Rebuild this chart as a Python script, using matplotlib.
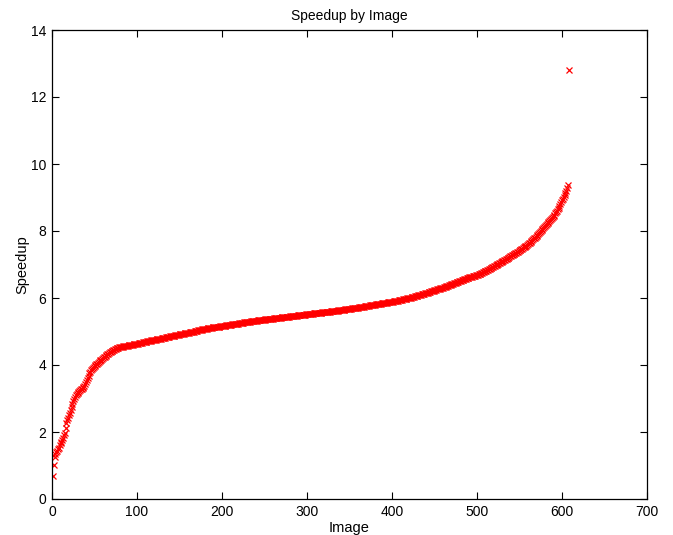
import matplotlib
matplotlib.use("Agg")
import matplotlib.pyplot as plt

speedup = [
    0.68, 1.02, 1.26, 1.33, 1.39, 1.44, 1.49, 1.53, 1.60, 1.66,
    1.70, 1.76, 1.83, 1.90, 1.98, 2.12, 2.28, 2.36, 2.43, 2.50,
    2.58, 2.66, 2.76, 2.85, 2.92, 2.99, 3.05, 3.09, 3.13, 3.16,
    3.19, 3.22, 3.25, 3.27, 3.29, 3.31, 3.33, 3.38, 3.44, 3.50,
    3.54, 3.60, 3.68, 3.75, 3.80, 3.84, 3.88, 3.91, 3.94, 3.97,
    4.00, 4.02, 4.04, 4.07, 4.09, 4.12, 4.14, 4.16, 4.18, 4.20,
    4.23, 4.25, 4.27, 4.30, 4.32, 4.34, 4.36, 4.38, 4.40, 4.42,
    4.43, 4.45, 4.46, 4.48, 4.49, 4.50, 4.51, 4.52, 4.53, 4.53,
    4.54, 4.55, 4.55, 4.56, 4.56, 4.57, 4.57, 4.58, 4.58, 4.59,
    4.59, 4.60, 4.60, 4.61, 4.61, 4.62, 4.62, 4.63, 4.63, 4.64,
    4.64, 4.65, 4.65, 4.66, 4.67, 4.67, 4.68, 4.68, 4.69, 4.69,
    4.70, 4.71, 4.71, 4.72, 4.73, 4.73, 4.74, 4.74, 4.75, 4.75,
    4.76, 4.76, 4.77, 4.77, 4.78, 4.78, 4.78, 4.79, 4.80, 4.80,
    4.81, 4.81, 4.82, 4.83, 4.83, 4.84, 4.84, 4.85, 4.86, 4.86,
    4.87, 4.87, 4.88, 4.88, 4.89, 4.90, 4.90, 4.91, 4.91, 4.92,
    4.92, 4.93, 4.93, 4.94, 4.94, 4.95, 4.95, 4.96, 4.96, 4.97,
    4.97, 4.98, 4.98, 4.99, 4.99, 5.00, 5.00, 5.01, 5.01, 5.02,
    5.02, 5.03, 5.04, 5.04, 5.05, 5.05, 5.06, 5.06, 5.07, 5.07,
    5.08, 5.08, 5.09, 5.09, 5.10, 5.10, 5.11, 5.11, 5.12, 5.12,
    5.12, 5.13, 5.13, 5.13, 5.14, 5.14, 5.14, 5.15, 5.15, 5.15,
    5.16, 5.16, 5.17, 5.17, 5.18, 5.18, 5.19, 5.19, 5.20, 5.20,
    5.20, 5.21, 5.21, 5.22, 5.22, 5.22, 5.23, 5.23, 5.23, 5.24,
    5.24, 5.25, 5.25, 5.26, 5.26, 5.27, 5.27, 5.27, 5.28, 5.28,
    5.28, 5.29, 5.29, 5.30, 5.30, 5.30, 5.31, 5.31, 5.32, 5.32,
    5.32, 5.33, 5.33, 5.33, 5.34, 5.34, 5.34, 5.35, 5.35, 5.35,
    5.36, 5.36, 5.36, 5.37, 5.37, 5.37, 5.38, 5.38, 5.38, 5.38,
    5.39, 5.39, 5.39, 5.40, 5.40, 5.40, 5.41, 5.41, 5.41, 5.42,
    5.42, 5.42, 5.43, 5.43, 5.43, 5.43, 5.44, 5.44, 5.44, 5.45,
    5.45, 5.45, 5.46, 5.46, 5.46, 5.47, 5.47, 5.47, 5.48, 5.48,
    5.48, 5.48, 5.49, 5.49, 5.49, 5.50, 5.50, 5.50, 5.51, 5.51,
    5.51, 5.52, 5.52, 5.52, 5.53, 5.53, 5.53, 5.54, 5.54, 5.54,
    5.55, 5.55, 5.55, 5.56, 5.56, 5.56, 5.56, 5.57, 5.57, 5.57,
    5.58, 5.58, 5.58, 5.59, 5.59, 5.59, 5.59, 5.60, 5.60, 5.60,
    5.61, 5.61, 5.61, 5.62, 5.62, 5.62, 5.63, 5.63, 5.63, 5.64,
    5.64, 5.64, 5.65, 5.65, 5.66, 5.66, 5.66, 5.67, 5.67, 5.67,
    5.68, 5.68, 5.69, 5.69, 5.69, 5.70, 5.70, 5.71, 5.71, 5.71,
    5.72, 5.72, 5.73, 5.73, 5.74, 5.74, 5.74, 5.75, 5.75, 5.76,
    5.76, 5.77, 5.77, 5.78, 5.78, 5.79, 5.79, 5.80, 5.80, 5.80,
    5.81, 5.81, 5.82, 5.82, 5.82, 5.83, 5.83, 5.84, 5.84, 5.85,
    5.85, 5.85, 5.86, 5.86, 5.87, 5.87, 5.87, 5.88, 5.88, 5.89,
    5.89, 5.90, 5.90, 5.91, 5.91, 5.92, 5.92, 5.93, 5.93, 5.94,
    5.95, 5.95, 5.96, 5.96, 5.97, 5.98, 5.98, 5.99, 5.99, 6.00,
    6.01, 6.01, 6.02, 6.03, 6.03, 6.04, 6.05, 6.05, 6.06, 6.07,
    6.08, 6.08, 6.09, 6.10, 6.11, 6.11, 6.12, 6.13, 6.14, 6.15,
    6.15, 6.16, 6.17, 6.18, 6.19, 6.20, 6.21, 6.21, 6.22, 6.23,
    6.24, 6.25, 6.26, 6.26, 6.27, 6.28, 6.29, 6.30, 6.31, 6.31,
    6.32, 6.33, 6.34, 6.35, 6.36, 6.37, 6.38, 6.39, 6.40, 6.41,
    6.42, 6.43, 6.44, 6.45, 6.46, 6.47, 6.48, 6.49, 6.50, 6.51,
    6.52, 6.53, 6.54, 6.55, 6.56, 6.57, 6.58, 6.59, 6.60, 6.61,
    6.62, 6.62, 6.63, 6.64, 6.65, 6.66, 6.67, 6.67, 6.68, 6.69,
    6.70, 6.71, 6.72, 6.73, 6.75, 6.76, 6.77, 6.78, 6.80, 6.81,
    6.82, 6.84, 6.85, 6.87, 6.88, 6.89, 6.91, 6.92, 6.94, 6.95,
    6.96, 6.98, 6.99, 7.01, 7.02, 7.04, 7.05, 7.07, 7.08, 7.10,
    7.11, 7.13, 7.14, 7.16, 7.17, 7.19, 7.20, 7.22, 7.24, 7.25,
    7.27, 7.28, 7.30, 7.31, 7.33, 7.35, 7.36, 7.38, 7.40, 7.42,
    7.43, 7.45, 7.47, 7.49, 7.51, 7.52, 7.54, 7.56, 7.58, 7.61,
    7.63, 7.65, 7.68, 7.70, 7.73, 7.75, 7.78, 7.80, 7.83, 7.85,
    7.88, 7.91, 7.94, 7.97, 8.00, 8.03, 8.06, 8.09, 8.12, 8.15,
    8.18, 8.21, 8.24, 8.27, 8.30, 8.33, 8.36, 8.39, 8.42, 8.45,
    8.49, 8.53, 8.57, 8.61, 8.65, 8.70, 8.75, 8.80, 8.86, 8.92,
    8.97, 9.02, 9.08, 9.14, 9.20, 9.27, 9.36, 12.8,
]
image_index = list(range(1, len(speedup) + 1))

x_ticks = [0, 100, 200, 300, 400, 500, 600, 700]
y_ticks = [0, 2, 4, 6, 8, 10, 12, 14]

plt.rcParams['font.family'] = ['Liberation Sans', 'DejaVu Sans']

fig = plt.figure(figsize=(6.73, 5.35), dpi=100)
ax = fig.add_axes([52/673, 36/535, 595/673, 469/535])

ax.plot(image_index, speedup, linestyle='none', marker='x', color='#ff0000',
        markersize=5, markeredgewidth=0.9)

ax.set_xlim(0, 700)
ax.set_ylim(0, 14)
ax.set_xticks(x_ticks)
ax.set_yticks(y_ticks)
ax.tick_params(direction='in', length=5, width=0.8, top=True, right=True,
               labelsize=10, pad=4)
for s in ax.spines.values():
    s.set_linewidth(0.9)

ax.set_title('Speedup by Image', fontsize=10, pad=7)
ax.set_xlabel('Image', fontsize=10.5, labelpad=2)
ax.set_ylabel('Speedup', fontsize=10.5, labelpad=1)

fig.savefig('out.png', dpi=100)
